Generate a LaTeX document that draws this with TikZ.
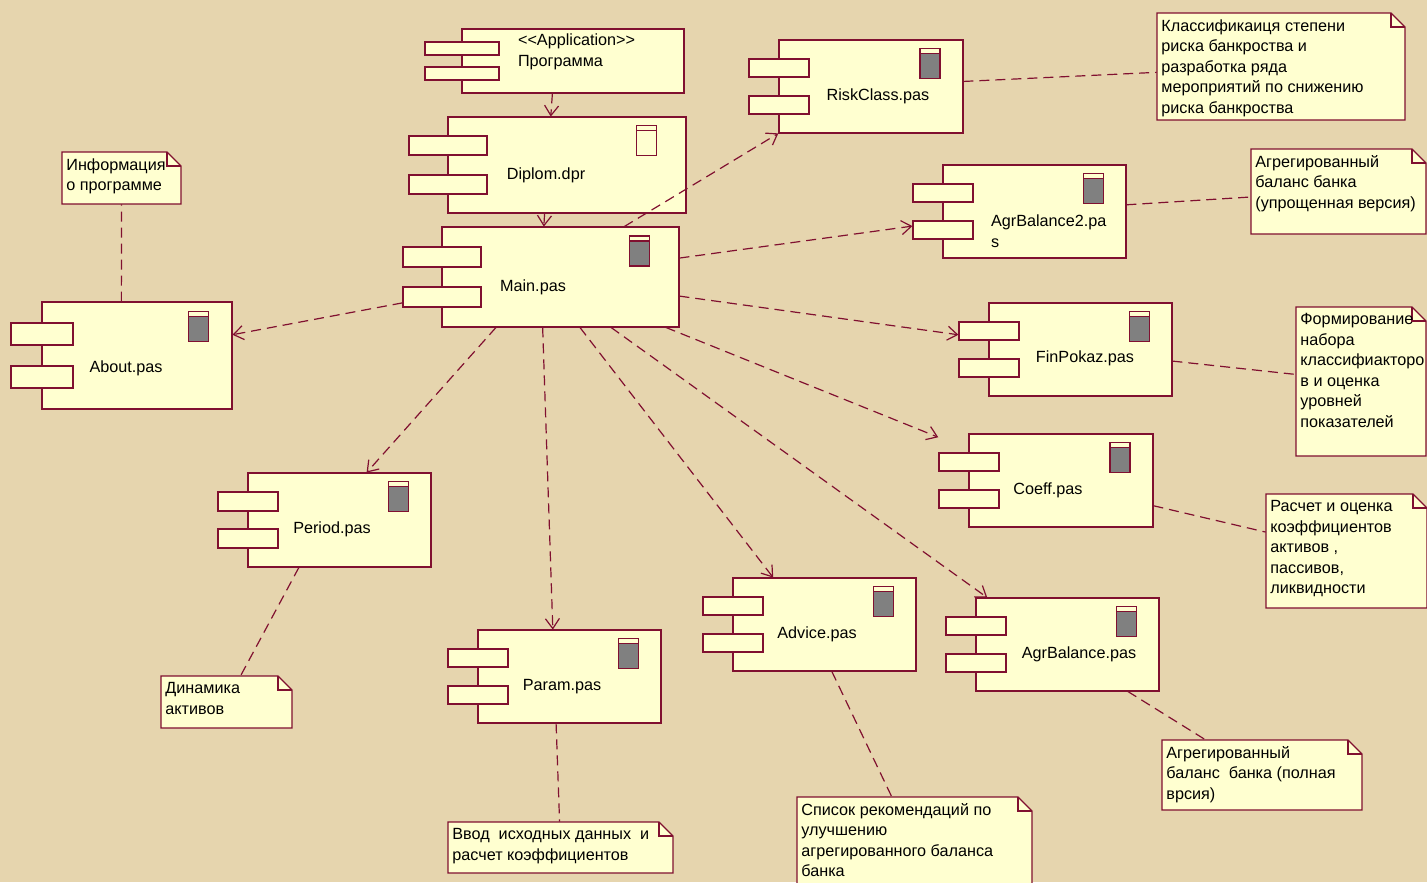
\documentclass[tikz,border=0pt]{standalone}
\usepackage{fontspec}
\setmainfont{Liberation Sans}
\usetikzlibrary{fit,arrows.meta}

\definecolor{umlline}{RGB}{128,16,48}
\definecolor{umlfill}{RGB}{255,255,208}
\definecolor{icongray}{RGB}{128,128,128}
\definecolor{parchment}{RGB}{230,213,174}

\newcommand\umlfont{\fontsize{8.1}{10.25}\selectfont}

\tikzset{
	every node/.style={font=\umlfont},
	compbox/.style={draw=umlline, fill=umlfill, line width=1pt},
	comptab/.style={draw=umlline, fill=umlfill, line width=1pt},
	iconbox/.style={draw=umlline, line width=0.6pt},
	notebox/.style={draw=umlline, fill=umlfill, line width=0.6pt},
	notetext/.style={anchor=north west, align=left, inner sep=0pt},
	umlconn/.style={draw=umlline, line width=0.6pt},
	depend/.style={umlconn, dash pattern=on 5pt off 3pt, -{Straight Barb[length=5pt,width=7pt]}},
	notelink/.style={umlconn, dash pattern=on 5pt off 3pt}
}

% component: name, left, top, right, bottom (main box), icon colour (empty = no icon)
\newcommand\umlcomp[6]{%
	\draw[compbox] (#2,#3) rectangle (#4,#5);
	\draw[comptab] ({#2-0.165*(#4-#2)},{#3+0.2*(#5-#3)}) rectangle ({#2+0.165*(#4-#2)},{#3+0.4*(#5-#3)});
	\draw[comptab] ({#2-0.165*(#4-#2)},{#3+0.6*(#5-#3)}) rectangle ({#2+0.165*(#4-#2)},{#3+0.8*(#5-#3)});
	\def\umlicn{#6}%
	\ifx\umlicn\empty\else
		\draw[iconbox, fill=#6] ({#4-0.125*(#4-#2)-20},{#3+0.09*(#5-#3)}) rectangle ++(20,30);
		\draw[iconbox, fill=umlfill] ({#4-0.125*(#4-#2)-20},{#3+0.09*(#5-#3)}) rectangle ++(20,5);
	\fi
	\node[fit={({#2-0.165*(#4-#2)},#3) (#4,#5)}, inner sep=0pt] (#1) {};
}

% note with folded corner: name, left, top, right, bottom
\newcommand\umlnote[5]{%
	\draw[notebox] (#2,#3) -- ({#4-14},#3) -- (#4,{#3+14}) -- (#4,#5) -- (#2,#5) -- cycle;
	\draw[umlconn] ({#4-14},#3) -- ({#4-14},{#3+14}) -- (#4,{#3+14});
	\node[fit={(#2,#3) (#4,#5)}, inner sep=0pt] (#1) {};
}

\begin{document}
\begin{tikzpicture}[x=0.5pt,y=-0.5pt]
	\useasboundingbox (0,0) rectangle (1427,882);
	\clip (0,0) rectangle (1427,882);
	\fill[parchment] (0,0) rectangle (1427,882);

	% components
	\umlcomp{prog}{462}{29}{684}{93}{}
	\node[anchor=west, align=left] (prog-l) at (511,52) {\textless\kern0pt\textless Application\textgreater\kern0pt\textgreater\\Программа};
	\umlcomp{diplom}{448}{117}{686}{213}{umlfill}
	\node (diplom-l) at (546,175) {Diplom.dpr};
	\umlcomp{main}{442}{227}{679}{327}{icongray}
	\node (main-l) at (533,287) {Main.pas};
	\umlcomp{risk}{779}{40}{963}{133}{icongray}
	\node (risk-l) at (878,96) {RiskClass.pas};
	\umlcomp{agrtwo}{943}{165}{1126}{258}{icongray}
	\node[anchor=west, align=left] (agrtwo-l) at (984,231) {AgrBalance2.pa\\s};
	\umlcomp{fin}{989}{303}{1172}{396}{icongray}
	\node (fin-l) at (1085,358) {FinPokaz.pas};
	\umlcomp{coeff}{969}{434}{1153}{527}{icongray}
	\node (coeff-l) at (1048,490) {Coeff.pas};
	\umlcomp{agr}{976}{598}{1159}{691}{icongray}
	\node (agr-l) at (1079,654) {AgrBalance.pas};
	\umlcomp{advice}{733}{578}{916}{671}{icongray}
	\node (advice-l) at (817,634) {Advice.pas};
	\umlcomp{param}{478}{630}{661}{723}{icongray}
	\node (param-l) at (562,687) {Param.pas};
	\umlcomp{period}{248}{473}{431}{567}{icongray}
	\node (period-l) at (332,529) {Period.pas};
	\umlcomp{about}{42}{302}{232}{409}{icongray}
	\node (about-l) at (126,368) {About.pas};

	% notes
	\umlnote{nrisk}{1157}{13}{1405}{120}
	\node[notetext] (nrisk-t) at (1161,19) {Классификаиця степени\\риска банкроства и\\разработка ряда\\мероприятий по снижению\\риска банкроства};
	\umlnote{nagrtwo}{1251}{149}{1426}{234}
	\node[notetext] (nagrtwo-t) at (1255,155) {Агрегированный\\баланс банка\\(упрощенная версия)};
	\umlnote{nfin}{1296}{307}{1426}{456}
	\node[notetext] (nfin-t) at (1300,313) {Формирование\\набора\\классифиакторо\\в и оценка\\уровней\\показателей};
	\umlnote{ncoeff}{1266}{494}{1427}{608}
	\node[notetext] (ncoeff-t) at (1270,500) {Расчет и оценка\\коэффициентов\\активов ,\\пассивов,\\ликвидности};
	\umlnote{nagr}{1162}{740}{1362}{810}
	\node[notetext] (nagr-t) at (1166,746) {Агрегированный\\баланс\ \ банка (полная\\врсия)};
	\umlnote{nadvice}{797}{797}{1032}{892}
	\node[notetext] (nadvice-t) at (801,803) {Список рекомендаций по\\улучшению\\агрегированного баланса\\банка};
	\umlnote{nparam}{448}{822}{673}{873}
	\node[notetext] (nparam-t) at (452,828) {Ввод\ \ исходных данных\ \ и\\расчет коэффициентов};
	\umlnote{nperiod}{161}{676}{292}{728}
	\node[notetext] (nperiod-t) at (165,682) {Динамика\\активов};
	\umlnote{nabout}{62}{152}{181}{204}
	\node[notetext] (nabout-t) at (66,158) {Информация\\о программе};

	% dependencies
	\draw[depend] (prog) -- (diplom);
	\draw[depend] (diplom) -- (main);
	\draw[depend] (main) -- (risk);
	\draw[depend] (main) -- (agrtwo);
	\draw[depend] (main) -- (fin);
	\draw[depend] (main) -- (coeff);
	\draw[depend] (main) -- (agr);
	\draw[depend] (main) -- (advice);
	\draw[depend] (main) -- (param);
	\draw[depend] (main) -- (period);
	\draw[depend] (main) -- (about);

	% note links
	\draw[notelink] (risk) -- (nrisk);
	\draw[notelink] (agrtwo) -- (nagrtwo);
	\draw[notelink] (fin) -- (nfin);
	\draw[notelink] (coeff) -- (ncoeff);
	\draw[notelink] (agr) -- (nagr);
	\draw[notelink] (advice) -- (nadvice);
	\draw[notelink] (param) -- (nparam);
	\draw[notelink] (period) -- (nperiod);
	\draw[notelink] (about) -- (nabout);
\end{tikzpicture}
\end{document}
